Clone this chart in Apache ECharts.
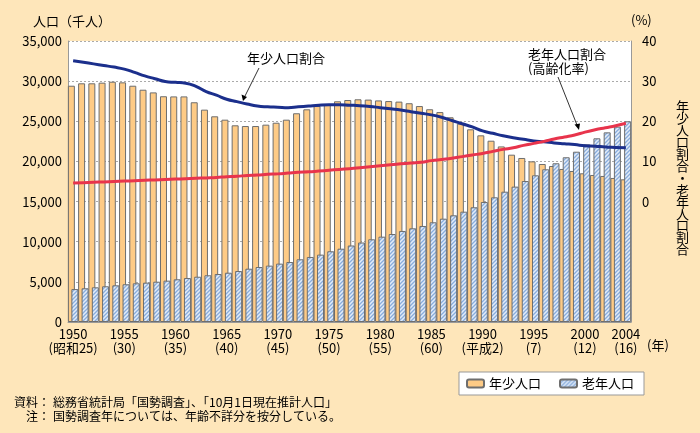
<!DOCTYPE html>
<html><head><meta charset="utf-8">
<script src="https://cdn.jsdelivr.net/npm/echarts@6/dist/echarts.min.js"></script>
<style>html,body{margin:0;padding:0;background:#FEE6BA}#c{width:700px;height:433px}</style>
</head><body><div id="c"></div>
<script>
const years = ['1950','1951','1952','1953','1954','1955','1956','1957','1958','1959',
'1960','1961','1962','1963','1964','1965','1966','1967','1968','1969',
'1970','1971','1972','1973','1974','1975','1976','1977','1978','1979',
'1980','1981','1982','1983','1984','1985','1986','1987','1988','1989',
'1990','1991','1992','1993','1994','1995','1996','1997','1998','1999',
'2000','2001','2002','2003','2004'];
const tickYears = ['1950','1955','1960','1965','1970','1975','1980','1985','1990','1995','2000','2004'];
const tickEra = ['(昭和25)','(30)','(35)','(40)','(45)','(50)','(55)','(60)','(平成2)','(7)','(12)','(16)'];
const childPop = [29430,29730,29730,29810,29930,29850,29430,28930,28600,28120,
28100,28100,27370,26450,25620,25200,24500,24410,24410,24580,
24820,25200,26000,26490,26900,27150,27490,27650,27740,27700,
27600,27520,27450,27250,26900,26500,26150,25500,24700,24000,
23250,22580,21870,20840,20430,20010,19680,19430,19060,18810,
18520,18310,18190,17940,17770];
const elderPop = [4100,4200,4320,4450,4570,4700,4820,4900,5020,5150,
5320,5480,5640,5820,5980,6140,6350,6640,6850,7020,
7270,7470,7810,8100,8390,8810,9130,9530,9900,10300,
10630,10960,11340,11670,11960,12420,12870,13290,13740,14290,
14950,15530,16230,16860,17560,18270,19020,19770,20520,21210,
22130,22880,23620,24330,25000];
const childRatio = [35.1,34.7,34.3,33.9,33.5,33.0,32.2,31.3,30.6,29.9,
29.7,29.5,28.7,27.4,26.5,25.5,24.9,24.3,23.8,23.6,
23.5,23.4,23.6,23.8,24.0,24.1,24.1,24.0,23.9,23.7,
23.4,23.1,22.8,22.4,22.0,21.6,21.0,20.2,19.4,18.6,
17.6,17.0,16.4,15.9,15.5,15.1,14.9,14.6,14.4,14.2,
13.9,13.8,13.6,13.5,13.4];
const elderRatio = [4.6,4.7,4.8,4.9,5.0,5.1,5.2,5.3,5.4,5.5,
5.6,5.7,5.8,5.9,6.0,6.2,6.3,6.5,6.6,6.8,
6.9,7.1,7.3,7.4,7.6,7.8,8.0,8.2,8.4,8.7,
8.9,9.2,9.4,9.6,9.8,10.2,10.5,10.8,11.2,11.6,
12.0,12.5,13.0,13.4,14.0,14.5,15.0,15.6,16.1,16.6,
17.3,17.9,18.4,18.9,19.5];

const FONT = '"Noto Sans CJK JP", "Noto Sans", sans-serif';

// hatch pattern for 老年人口
const pc = document.createElement('canvas');
pc.width = 4; pc.height = 4;
const g = pc.getContext('2d');
g.fillStyle = '#e2ecf9'; g.fillRect(0,0,4,4);
g.strokeStyle = '#88acdc'; g.lineWidth = 1.3;
g.beginPath(); g.moveTo(-1,5); g.lineTo(5,-1); g.moveTo(-1,1); g.lineTo(1,-1); g.moveTo(3,5); g.lineTo(5,3); g.stroke();

const chart = echarts.init(document.getElementById('c'));
const option = {
  backgroundColor: '#FEE6BA',
  textStyle: {fontFamily: FONT},
  animation: false,
  grid: {left: 68, right: 69, top: 41, bottom: 111, show: true, backgroundColor: '#fff', borderWidth: 0},
  legend: {
    data: ['年少人口','老年人口'],
    left: 459, top: 372,
    itemWidth: 17, itemHeight: 8, itemGap: 18,
    padding: [5, 10, 5, 7],
    backgroundColor: '#fff', borderColor: '#999', borderWidth: 1,
    textStyle: {fontSize: 13, color: '#000', fontFamily: FONT}
  },
  xAxis: {
    type: 'category', data: years, boundaryGap: true,
    axisLine: {show: true, lineStyle: {color: '#999'}},
    axisTick: {show: false},
    axisLabel: {
      interval: function(i, v){ return tickYears.indexOf(v) >= 0; },
      formatter: function(v){ const k = tickYears.indexOf(v); return k >= 0 ? v + '\n' + tickEra[k] : ''; },
      color: '#000', fontSize: 13, lineHeight: 14, margin: 5, fontFamily: FONT
    }
  },
  yAxis: [{
    type: 'value', min: 0, max: 35000, interval: 5000,
    axisLine: {show: true, lineStyle: {color: '#999'}},
    axisTick: {show: false},
    splitLine: {show: true, lineStyle: {color: '#aaa', type: [2, 2]}},
    axisLabel: {formatter: function(v){ return v.toLocaleString('en-US'); }, color: '#000', fontSize: 13, margin: 6, fontFamily: FONT}
  }, {
    type: 'value', min: -30, max: 40, interval: 10, position: 'right',
    axisLine: {show: true, lineStyle: {color: '#999'}},
    axisTick: {show: false},
    splitLine: {show: false},
    axisLabel: {formatter: function(v){ return v >= 0 ? String(v) : ''; }, color: '#000', fontSize: 13, margin: 11, fontFamily: FONT}
  }],
  series: [{
    name: '年少人口', type: 'bar', data: childPop, barWidth: 7, barGap: '-50%',
    itemStyle: {color: '#FECB86', borderColor: '#6e6e6e', borderWidth: 1}, z: 2
  }, {
    name: '老年人口', type: 'bar', data: elderPop, barWidth: 7,
    itemStyle: {color: {image: pc, repeat: 'repeat'}, borderColor: '#6e6e6e', borderWidth: 1}, z: 3
  }, {
    name: '年少人口割合', type: 'line', yAxisIndex: 1, data: childRatio, smooth: true,
    symbol: 'none', lineStyle: {color: '#1b2f8c', width: 3}, z: 5
  }, {
    name: '老年人口割合', type: 'line', yAxisIndex: 1, data: elderRatio, smooth: true,
    symbol: 'none', lineStyle: {color: '#e8344c', width: 3}, z: 5
  }],
  graphic: [
    {type: 'text', left: 33, top: 15, style: {text: '人口（千人）', font: '13px ' + FONT, fill: '#000'}},
    {type: 'text', left: 631, top: 14, style: {text: '(%)', font: '13px ' + FONT, fill: '#000'}},
    {type: 'text', left: 676, top: 100, style: {text: '年\n少\n人\n口\n割\n合\n・\n老\n年\n人\n口\n割\n合', font: '13px ' + FONT, lineHeight: 11.9, fill: '#000', align: 'left'}},
    {type: 'text', left: 647, top: 339, style: {text: '(年)', font: '13px ' + FONT, fill: '#000'}},
    {type: 'text', left: 247, top: 52, style: {text: '年少人口割合', font: '13px ' + FONT, fill: '#000'}},
    {type: 'text', left: 528, top: 47, style: {text: '老年人口割合\n(高齢化率)', font: '13px ' + FONT, fill: '#000', align: 'center', lineHeight: 14, x: 35}},
    {type: 'line', shape: {x1: 259, y1: 68, x2: 245, y2: 96}, style: {stroke: '#333', lineWidth: 1}, z: 10},
    {type: 'polygon', shape: {points: [[243,101],[241.5,94.5],[247,97]]}, style: {fill: '#000'}, z: 10},
    {type: 'line', shape: {x1: 558, y1: 77, x2: 577, y2: 125}, style: {stroke: '#333', lineWidth: 1}, z: 10},
    {type: 'polygon', shape: {points: [[579,130],[574.5,124.5],[580,123.5]]}, style: {fill: '#000'}, z: 10},
    {type: 'text', right: 650, top: 396, style: {text: '資料：', font: '12px ' + FONT, fill: '#000'}},
    {type: 'text', left: 53, top: 396, style: {text: '総務省統計局「国勢調査」、「10月1日現在推計人口」', font: '12px ' + FONT, fill: '#000'}},
    {type: 'text', left: 26, top: 410, style: {text: '注：', font: '12px ' + FONT, fill: '#000'}},
    {type: 'text', left: 53, top: 410, style: {text: '国勢調査年については、年齢不詳分を按分している。', font: '12px ' + FONT, fill: '#000'}}
  ]
};
chart.setOption(option);
</script></body></html>
